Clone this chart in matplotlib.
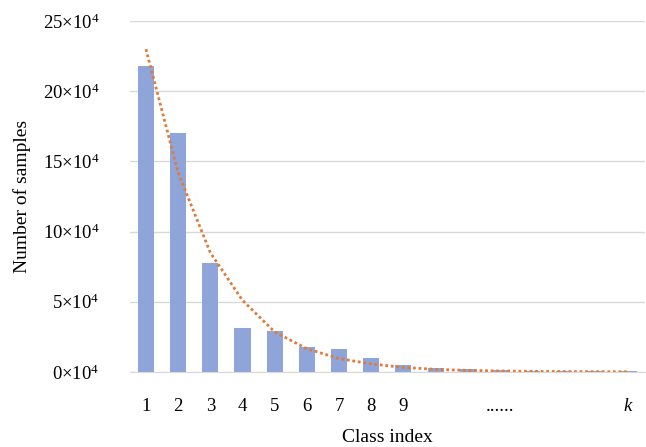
import matplotlib
matplotlib.use("Agg")
import matplotlib.pyplot as plt

# ================= DATA =================
class_pos = list(range(1, 17))
samples = [218000, 170500, 77500, 31000, 29000, 17700, 16200, 9800,
           5000, 2800, 2100, 1400, 1000, 900, 800, 700]
# exponential trendline, values at each class
trend = [230000, 142000, 85000, 51000, 28500, 16500, 9500, 5700,
         3200, 1800, 1100, 650, 400, 230, 140, 80]
x_labels = ["1", "2", "3", "4", "5", "6", "7", "8", "9",
            "", "", "......", "", "", "", "$k$"]
y_ticks = [0, 5, 10, 15, 20, 25]
# ========================================

plt.rcParams["font.family"] = ["Liberation Serif", "DejaVu Serif"]
plt.rcParams["mathtext.fontset"] = "custom"
plt.rcParams["mathtext.rm"] = "Liberation Serif"
plt.rcParams["mathtext.it"] = "Liberation Serif:italic"

fig = plt.figure(figsize=(6.46, 4.47), dpi=100)
ax = fig.add_axes([0.201, 0.168, 0.797, 0.785])

ax.bar(class_pos, samples, width=0.5, color="#8fa4d8", zorder=2)
ax.plot(class_pos, trend, linestyle=(0, (1, 1)), color="#e07b39",
        linewidth=2, zorder=3)

ax.set_xlim(0.5, 16.5)
ax.set_ylim(0, 25e4)
ax.set_yticks([v * 1e4 for v in y_ticks])
ax.set_yticklabels([r"$\mathregular{%d{\times}10^4}$" % v for v in y_ticks])
ax.set_xticks(class_pos)
ax.set_xticklabels(x_labels)

ax.tick_params(axis="x", length=0, pad=19, labelsize=13.5)
ax.tick_params(axis="y", length=0, pad=22, labelsize=13.5)
ax.grid(axis="y", color="#d9d9d9", linewidth=1, zorder=0)
for s in ["top", "right", "left"]:
    ax.spines[s].set_visible(False)
ax.spines["bottom"].set_color("#d9d9d9")

ax.set_xlabel("Class index", fontsize=14, labelpad=10)
ax.set_ylabel("Number of samples", fontsize=14, labelpad=8)

fig.savefig("out.png", dpi=100)
